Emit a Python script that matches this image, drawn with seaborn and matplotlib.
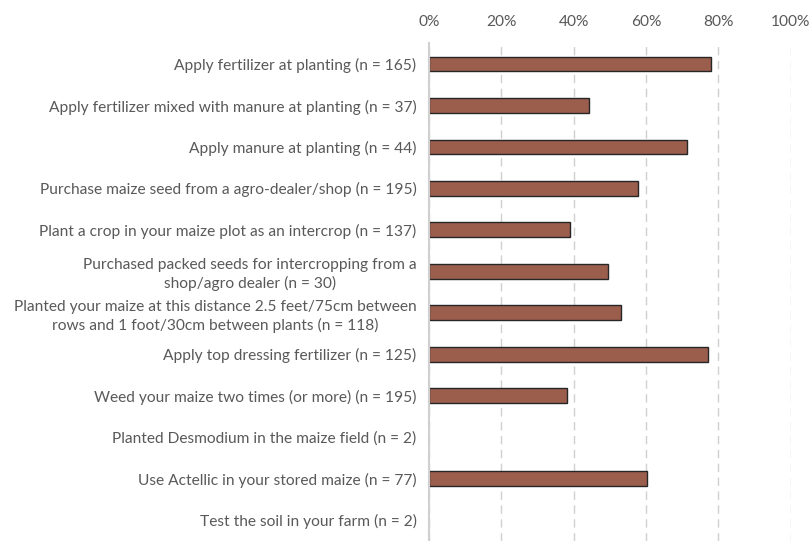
import pandas as pd
import seaborn as sns
import matplotlib.pyplot as plt
from matplotlib.ticker import PercentFormatter

# practices (top to bottom) and share of farmers adopting them (%)
practices = [
    "Apply fertilizer at planting (n = 165)",
    "Apply fertilizer mixed with manure at planting (n = 37)",
    "Apply manure at planting (n = 44)",
    "Purchase maize seed from a agro-dealer/shop (n = 195)",
    "Plant a crop in your maize plot as an intercrop (n = 137)",
    "Purchased packed seeds for intercropping from a\nshop/agro dealer (n = 30)",
    "Planted your maize at this distance 2.5 feet/75cm between\nrows and 1 foot/30cm between plants (n = 118)",
    "Apply top dressing fertilizer (n = 125)",
    "Weed your maize two times (or more) (n = 195)",
    "Planted Desmodium in the maize field (n = 2)",
    "Use Actellic in your stored maize (n = 77)",
    "Test the soil in your farm (n = 2)",
]
adoption = [77.9, 44.2, 71.4, 57.9, 39.1, 49.4, 53.2, 77.0, 38.1, 0.0, 60.4, 0.0]
ticks = [0, 20, 40, 60, 80, 100]

df = pd.DataFrame({"practice": practices, "pct": adoption})

sns.set_theme(style="white")
plt.rcParams['font.family'] = ['Lato', 'DejaVu Sans']

fig = plt.figure(figsize=(8.11, 5.41), dpi=100)
ax = fig.add_axes([0.529, 0.0, 0.446, 0.92])

sns.barplot(data=df, x="pct", y="practice", order=practices,
            color="#9B5E4D", saturation=1, width=0.36,
            edgecolor="#262626", linewidth=1.0, ax=ax)

# empty bars should not leave an outline stub on the axis
for p in ax.patches:
    if p.get_width() == 0:
        p.set_visible(False)

ax.set_xlim(0, 100)
ax.set_ylim(len(practices) - 0.5, -0.5)
ax.set_xticks(ticks)
ax.xaxis.set_major_formatter(PercentFormatter(decimals=0))
ax.xaxis.tick_top()
ax.tick_params(axis="x", length=0, pad=10, labelsize=11.2, labelcolor="#595959")
ax.tick_params(axis="y", length=0, pad=9, labelsize=11.2, labelcolor="#595959")
for t in ax.get_yticklabels():
    t.set_multialignment("center")
    t.set_linespacing(1.3)

ax.xaxis.grid(True, color="#D0D0D0", linestyle=(0, (6, 4)), linewidth=1.0)
ax.set_axisbelow(True)
for side in ["top", "right", "bottom"]:
    ax.spines[side].set_visible(False)
ax.spines["left"].set_color("#D0D0D0")
ax.spines["left"].set_linewidth(1.5)

ax.set_xlabel("")
ax.set_ylabel("")

fig.savefig("out.png", dpi=100)
